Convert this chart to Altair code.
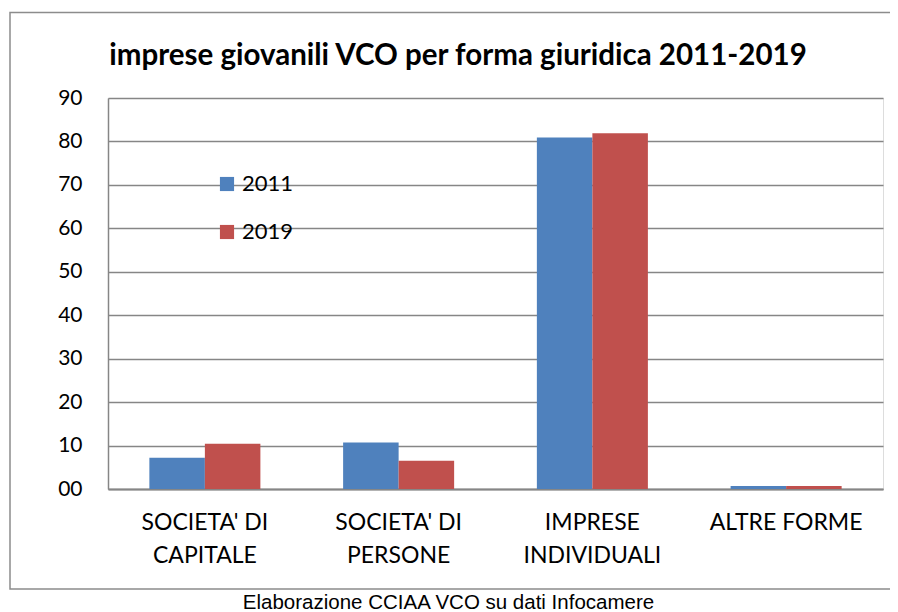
import altair as alt
import pandas as pd

categories = ["SOCIETA' DI CAPITALE", "SOCIETA' DI PERSONE", "IMPRESE INDIVIDUALI", "ALTRE FORME"]
cat_labels = [["SOCIETA' DI", "CAPITALE"], ["SOCIETA' DI", "PERSONE"], ["IMPRESE", "INDIVIDUALI"], ["ALTRE FORME"]]
years = ["2011", "2019"]
values_2011 = [7.2, 10.7, 80.9, 0.7]
values_2019 = [10.4, 6.5, 81.9, 0.7]
colors = ["#4F81BD", "#C0504D"]
title_text = "imprese giovanili VCO per forma giuridica 2011-2019"
caption_text = "Elaborazione CCIAA VCO su dati Infocamere"

rows = []
for c, a, b in zip(categories, values_2011, values_2019):
    rows.append({"cat": c, "anno": "2011", "v": a})
    rows.append({"cat": c, "anno": "2019", "v": b})
df = pd.DataFrame(rows)


def js_list(items):
    return "[" + ", ".join('"' + s + '"' for s in items) + "]"


label_expr = " : ".join(
    [f'datum.value == "{c}" ? {js_list(l)}' for c, l in zip(categories, cat_labels)]
) + " : datum.label"

W, H = 775, 391

bars = alt.Chart(df).mark_bar().encode(
    x=alt.X("cat:N", sort=categories,
            scale=alt.Scale(paddingInner=0.427, paddingOuter=0.2135),
            axis=alt.Axis(title=caption_text,
                          titleFont="Liberation Sans", titleFontSize=20.5,
                          titleFontWeight="normal", titleColor="#000000",
                          titleX=340, titleY=119, titleBaseline="alphabetic",
                          titleAnchor="middle", titleAlign="center",
                          labelExpr=label_expr, labelAngle=0,
                          labelFont="Lato", labelFontSize=23, labelColor="#000000",
                          labelLineHeight=33, labelPadding=22, labelBaseline="top",
                          ticks=False, domain=True, domainColor="#868686",
                          domainWidth=2, grid=False)),
    xOffset=alt.XOffset("anno:N", sort=years),
    y=alt.Y("v:Q", scale=alt.Scale(domain=[0, 90], nice=False),
            axis=alt.Axis(title=None, values=list(range(0, 91, 10)),
                          labelExpr="datum.value == 0 ? '00' : datum.label",
                          labelFont="Lato", labelFontSize=21, labelColor="#000000",
                          labelPadding=26, ticks=False, domain=True,
                          domainColor="#868686", domainWidth=1.5,
                          grid=True, gridColor="#868686", gridWidth=1.5)),
    color=alt.Color("anno:N", sort=years,
                    scale=alt.Scale(domain=years, range=colors),
                    legend=alt.Legend(title=None, orient="none", legendX=108, legendY=75,
                                      symbolType="square", symbolSize=200,
                                      symbolStrokeWidth=0, labelFont="Lato",
                                      labelFontSize=22, labelColor="#000000",
                                      rowPadding=26, labelOffset=4)),
)

border = alt.Chart(pd.DataFrame({"a": [0]})).mark_rect(
    fill=None, stroke="#8c8c8c", strokeWidth=1.5
).encode(
    x=alt.value(-98), x2=alt.value(820), y=alt.value(-85.5), y2=alt.value(491)
)

title = alt.Chart(pd.DataFrame({"t": [title_text]})).mark_text(
    font="Lato", fontSize=29.5, fontWeight="bold", color="#000000",
    align="center", baseline="alphabetic"
).encode(text="t:N", x=alt.value(350), y=alt.value(-33))

chart = alt.layer(border, bars, title).properties(
    width=W, height=H,
    padding={"left": 100, "top": 90, "right": 7, "bottom": 123},
    autosize=alt.AutoSizeParams(type="none"),
).configure_view(stroke=None).configure(background="white")

chart.save("out.html", embed_options={"renderer": "svg", "actions": False})
